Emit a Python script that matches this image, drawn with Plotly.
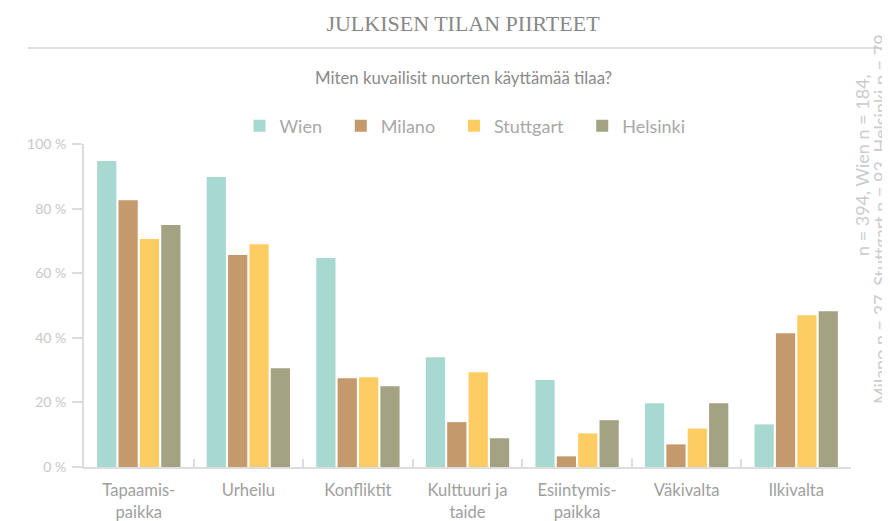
import plotly.graph_objects as go

categories = ["Tapaamis-<br>paikka", "Urheilu", "Konfliktit", "Kulttuuri ja<br>taide",
              "Esiintymis-<br>paikka", "Väkivalta", "Ilkivalta"]
wien = [94.7, 89.8, 64.7, 34.0, 26.9, 19.7, 13.2]
milano = [82.6, 65.6, 27.5, 13.9, 3.3, 7.0, 41.4]
stuttgart = [70.6, 69.0, 27.8, 29.3, 10.4, 11.9, 47.0]
helsinki = [74.9, 30.6, 25.0, 8.9, 14.5, 19.7, 48.2]

series = [("Wien", wien, "#a8d9d1"), ("Milano", milano, "#c4996b"),
          ("Stuttgart", stuttgart, "#fdcc63"), ("Helsinki", helsinki, "#a3a383")]

FONT = "Lato"
NB = "\u00a0" * 3  # extra room between legend entries

# page body has an 8px margin, so the figure is sized to fit the window
W, H = 882, 513
PL, PT, PH, PW = 76, 136, 323, 767  # plot area inside the figure


def py(page_y):
    # page pixel row -> paper y
    return (PT + PH - (page_y - 8)) / PH


def px(page_x):
    return (page_x - 8 - PL) / PW


fig = go.Figure()
for name, vals, col in series:
    fig.add_trace(go.Bar(x=categories, y=vals, name=name + NB,
                         marker=dict(color=col, line=dict(width=0))))

fig.update_layout(
    width=W, height=H,
    margin=dict(l=PL, r=W - PL - PW, t=PT, b=H - PT - PH, autoexpand=False),
    plot_bgcolor="white", paper_bgcolor="white",
    barmode="group", bargap=0.22, bargroupgap=0.1,
    font=dict(family=FONT, color="#999"),
    title=dict(text="JULKISEN TILAN PIIRTEET", x=(463 - 8) / W, y=1 - (23 - 8) / H,
               xanchor="center", yanchor="middle",
               font=dict(family="Liberation Serif", size=22, color="#888")),
    legend=dict(orientation="h", x=px(472), xanchor="center", y=py(126), yanchor="middle",
                font=dict(size=18, color="#a8a8a8")),
    showlegend=True,
)
fig.update_xaxes(showline=True, linecolor="#ddd", linewidth=2, tickson="boundaries",
                 ticks="inside", ticklen=8, tickcolor="#ddd", tickwidth=2, automargin=False,
                 ticklabelstandoff=7,
                 tickfont=dict(size=16.6, color="#a0a0a0"), showgrid=False)
fig.update_yaxes(range=[0, 100], dtick=20, ticksuffix=" %", showline=True, linecolor="#ddd",
                 linewidth=2, ticks="outside", ticklen=10, tickcolor="#ddd", tickwidth=2,
                 ticklabelstandoff=3, automargin=False,
                 tickfont=dict(size=14, color="#c8c8c8"), showgrid=False, zeroline=False)

fig.add_annotation(text="Miten kuvailisit nuorten käyttämää tilaa?", xref="paper", yref="paper",
                   x=px(463), y=py(77), xanchor="center", yanchor="middle",
                   showarrow=False, font=dict(size=16.8, color="#8a8a8a"))
fig.add_shape(type="line", xref="paper", yref="paper", x0=px(28), x1=px(900),
              y0=py(48), y1=py(48), line=dict(color="#d5d5d5", width=1.5))
fig.add_annotation(text="n = 394, Wien n = 184,", xref="paper", yref="paper", textangle=-90,
                   x=px(862), y=py(165), xanchor="center", yanchor="middle",
                   showarrow=False, font=dict(size=18, color="#ccc"))
fig.add_annotation(text="Milano n = 37, Stuttgart n = 93, Helsinki n = 79", xref="paper", yref="paper",
                   textangle=-90, x=px(880), y=py(219),
                   xanchor="center", yanchor="middle",
                   showarrow=False, font=dict(size=18, color="#ccc"))

fig.write_html("out.html")
